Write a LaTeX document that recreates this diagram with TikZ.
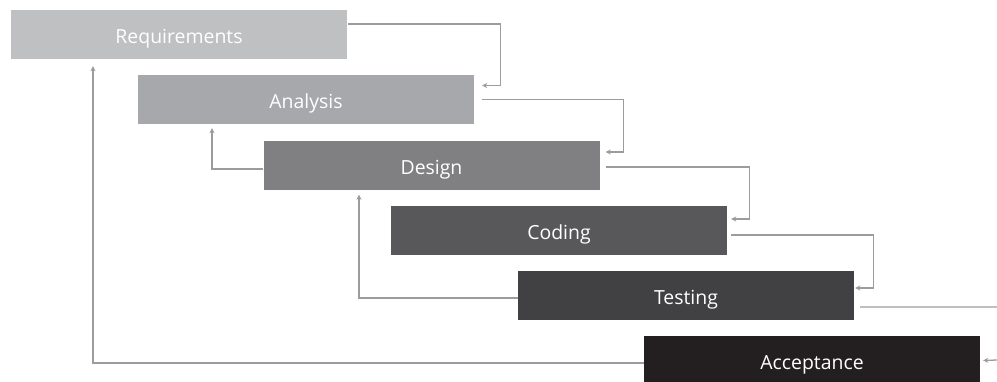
\documentclass[tikz,border=0pt]{standalone}
\usepackage{fontspec}
\setmainfont{Open Sans}
\usetikzlibrary{arrows.meta}

\definecolor{reqgray}{HTML}{BFC0C2}
\definecolor{anagray}{HTML}{A7A8AB}
\definecolor{desgray}{HTML}{808083}
\definecolor{codgray}{HTML}{58585A}
\definecolor{tesgray}{HTML}{414042}
\definecolor{accgray}{HTML}{231F20}
\definecolor{linkgray}{HTML}{9C9C9E}

\begin{document}
\begin{tikzpicture}[x=1bp,y=-1bp,
     link/.style={draw=linkgray, line width=1.3bp, -{Stealth[length=5bp,width=5bp,inset=1.5bp]}},
     plain link/.style={draw=linkgray, line width=1.3bp}]
     \useasboundingbox (0,0) rectangle (997,381);

     \begin{scope}[
     every node/.style={rectangle, minimum width=336bp, minimum height=49bp, inner sep=0pt, text height=22bp, text depth=4bp, text=white, font=\fontsize{19.5}{22}\selectfont}]
     \node[fill=reqgray] (Requirements) at (179,34.5) {Requirements};
     \node[fill=anagray] (Analysis) at (306,99.5) {Analysis};
     \node[fill=desgray] (Design) at (431.5,165) {Design};
     \node[fill=codgray] (Coding) at (559,230.5) {Coding};
     \node[fill=tesgray] (Testing) at (686,295.5) {Testing};
     \node[fill=accgray] (Acceptance) at (812,360.5) {Acceptance};
     \end{scope}

     \coordinate (Out) at (997,307);
     \coordinate (In) at (997,360);

     % down the steps
     \draw[link] ([xshift=1bp,yshift=10.5bp]Requirements.east) -| ([xshift=26bp,yshift=14bp]Analysis.east) -- ([xshift=8bp,yshift=14bp]Analysis.east);
     \draw[link] ([xshift=8bp]Analysis.east) -| ([xshift=24bp,yshift=13bp]Design.east) -- ([xshift=6bp,yshift=13bp]Design.east);
     \draw[link] ([xshift=6bp,yshift=-2bp]Design.east) -| ([xshift=22bp,yshift=11.5bp]Coding.east) -- ([xshift=4bp,yshift=11.5bp]Coding.east);
     \draw[link] ([xshift=4bp,yshift=-4.5bp]Coding.east) -| ([xshift=19bp,yshift=7.5bp]Testing.east) -- ([xshift=1bp,yshift=7.5bp]Testing.east);
     \draw[plain link] ([xshift=6bp,yshift=-11.5bp]Testing.east) -- (Out);
     \draw[link] (In) -- ([xshift=3bp]Acceptance.east);

     % back up
     \draw[link] ([yshift=-4bp]Design.west) -| ([xshift=-94bp,yshift=-4bp]Analysis.south);
     \draw[link] ([yshift=-2.5bp]Testing.west) -| ([xshift=-72.5bp,yshift=-5bp]Design.south);
     \draw[link] ([yshift=-2.5bp]Acceptance.west) -| ([xshift=-86bp,yshift=-7bp]Requirements.south);
\end{tikzpicture}
\end{document}
